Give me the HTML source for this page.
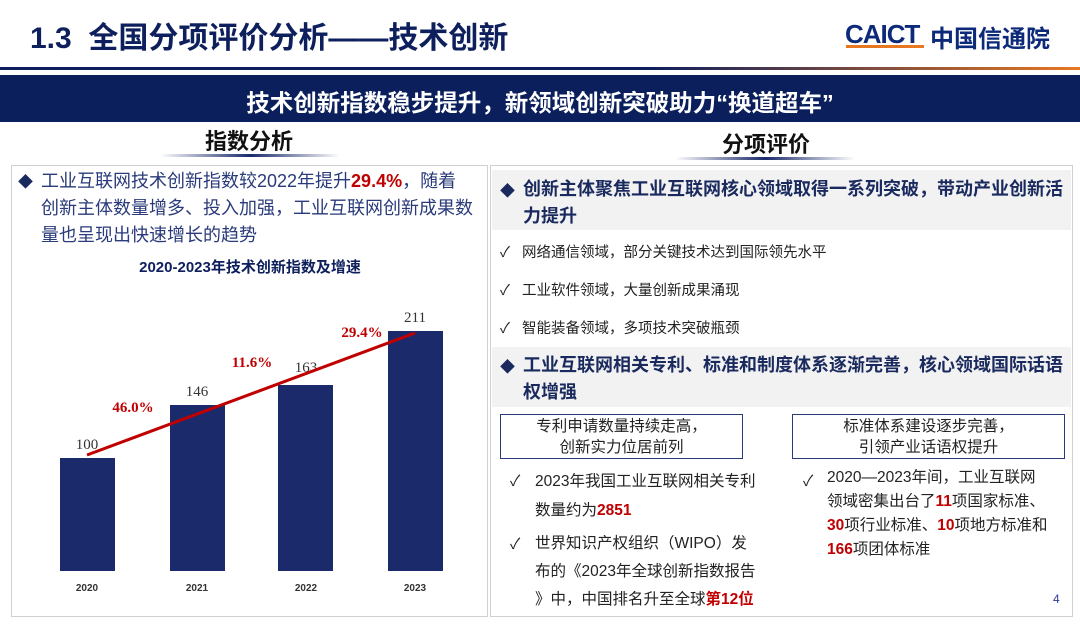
<!DOCTYPE html>
<html><head><meta charset="utf-8"><style>
*{margin:0;padding:0;box-sizing:border-box}
body{width:1080px;height:625px;background:#fff;position:relative;overflow:hidden;font-family:"Liberation Sans","Noto Sans CJK SC",sans-serif;color:#1a2a5e}
.a{position:absolute;white-space:nowrap}
.r{color:#c00000;font-weight:bold}
.chk{font-size:14.5px;color:#222}
</style></head><body>
<div class="a" style="left:30px;top:13px;font-size:30px;font-weight:bold;color:#0d1f5c">1.3&nbsp; 全国分项评价分析——技术创新</div>
<div class="a" style="left:845px;top:19px;font-size:26px;font-weight:900;color:#0d2a7a;letter-spacing:-1px">CAICT</div>
<div class="a" style="left:846px;top:45px;width:78px;height:3px;background:#e87722"></div>
<div class="a" style="left:930px;top:19px;font-size:24px;font-weight:bold;color:#0d2a7a">中国信通院</div>
<div class="a" style="left:0;top:67px;width:1080px;height:3px;background:linear-gradient(90deg,#0d1f5c 0%,#0d1f5c 60%,#e87722 100%)"></div>
<div class="a" style="left:0;top:75px;width:1080px;height:47px;background:#0a1f5c"></div>
<div class="a" style="left:0;top:84px;width:1080px;text-align:center;font-size:23.5px;font-weight:bold;color:#fff">技术创新指数稳步提升，新领域创新突破助力“换道超车”</div>
<div class="a" style="left:205px;top:124px;font-size:22px;font-weight:bold;color:#111">指数分析</div>
<div class="a" style="left:160px;top:154px;width:180px;height:3px;background:linear-gradient(90deg,#fff,#1a2a6b 50%,#fff)"></div>
<div class="a" style="left:722px;top:127px;font-size:22px;font-weight:bold;color:#111">分项评价</div>
<div class="a" style="left:675px;top:157px;width:180px;height:3px;background:linear-gradient(90deg,#fff,#1a2a6b 50%,#fff)"></div>

<div class="a" style="left:11px;top:165px;width:477px;height:452px;border:1px solid #d0d0d0"></div>
<div class="a" style="left:18px;top:171px;font-size:15px">◆</div>
<div class="a" style="left:41px;top:168px;font-size:18px;line-height:27px;color:#2a3a7a">工业互联网技术创新指数较2022年提升<span class="r">29.4%</span>，随着<br>创新主体数量增多、投入加强，工业互联网创新成果数<br>量也呈现出快速增长的趋势</div>
<div class="a" style="left:0;top:256px;width:500px;text-align:center;font-size:15px;font-weight:bold;color:#0d1f5c">2020-2023年技术创新指数及增速</div>
<svg class="a" style="left:0;top:290px" width="490" height="320">
<g fill="#1b2a6b"><rect x="60" y="168" width="55" height="113"/><rect x="170" y="115" width="55" height="166"/><rect x="278" y="95" width="55" height="186"/><rect x="388" y="41" width="55" height="240"/></g>
<g font-family="Liberation Serif,serif" font-size="15" fill="#333" text-anchor="middle"><text x="87" y="159">100</text><text x="197" y="106">146</text><text x="306" y="82">163</text><text x="415" y="32">211</text></g>
<line x1="87" y1="165" x2="415" y2="43" stroke="#c00000" stroke-width="3"/>
<g font-family="Liberation Serif,serif" font-size="15" font-weight="bold" fill="#c00000" text-anchor="middle"><text x="133" y="122">46.0%</text><text x="252" y="77">11.6%</text><text x="362" y="47">29.4%</text></g>
<g font-size="10" font-weight="bold" fill="#333" text-anchor="middle"><text x="87" y="301">2020</text><text x="197" y="301">2021</text><text x="306" y="301">2022</text><text x="415" y="301">2023</text></g>
</svg>

<div class="a" style="left:490px;top:165px;width:583px;height:452px;border:1px solid #d0d0d0"></div>
<div class="a" style="left:492px;top:170px;width:579px;height:60px;background:#f2f2f2"></div>
<div class="a" style="left:500px;top:180px;font-size:15px">◆</div>
<div class="a" style="left:523px;top:176px;font-size:18px;font-weight:bold;line-height:27px">创新主体聚焦工业互联网核心领域取得一系列突破，带动产业创新活<br>力提升</div>
<div class="a chk" style="left:500px;top:241px">✓&nbsp;&nbsp; 网络通信领域，部分关键技术达到国际领先水平</div>
<div class="a chk" style="left:500px;top:279px">✓&nbsp;&nbsp; 工业软件领域，大量创新成果涌现</div>
<div class="a chk" style="left:500px;top:317px">✓&nbsp;&nbsp; 智能装备领域，多项技术突破瓶颈</div>
<div class="a" style="left:492px;top:347px;width:579px;height:60px;background:#f2f2f2"></div>
<div class="a" style="left:500px;top:356px;font-size:15px">◆</div>
<div class="a" style="left:523px;top:352px;font-size:18px;font-weight:bold;line-height:27px">工业互联网相关专利、标准和制度体系逐渐完善，核心领域国际话语<br>权增强</div>
<div class="a" style="left:500px;top:414px;width:243px;height:45px;border:1.5px solid #2a3a7a;text-align:center;font-size:15.5px;line-height:21px;color:#222;padding-top:1px">专利申请数量持续走高，<br>创新实力位居前列</div>
<div class="a" style="left:792px;top:414px;width:273px;height:45px;border:1.5px solid #2a3a7a;text-align:center;font-size:15.5px;line-height:21px;color:#222;padding-top:1px">标准体系建设逐步完善，<br>引领产业话语权提升</div>
<div class="a" style="left:510px;top:470px;font-size:15px;color:#222">✓</div>
<div class="a" style="left:535px;top:467px;font-size:15.5px;line-height:29px;color:#222">2023年我国工业互联网相关专利<br>数量约为<span class="r">2851</span></div>
<div class="a" style="left:510px;top:533px;font-size:15px;color:#222">✓</div>
<div class="a" style="left:535px;top:530px;font-size:15.5px;line-height:28px;color:#222">世界知识产权组织（WIPO）发<br>布的《2023年全球创新指数报告<br>》中，中国排名升至全球<span class="r">第12位</span></div>
<div class="a" style="left:803px;top:470px;font-size:15px;color:#222">✓</div>
<div class="a" style="left:827px;top:466px;font-size:15.5px;line-height:24px;color:#222">2020—2023年间，工业互联网<br>领域密集出台了<span class="r">11</span>项国家标准、<br><span class="r">30</span>项行业标准、<span class="r">10</span>项地方标准和<br><span class="r">166</span>项团体标准</div>
<div class="a" style="left:1053px;top:592px;font-size:12px;color:#2a3a9a">4</div>
</body></html>
